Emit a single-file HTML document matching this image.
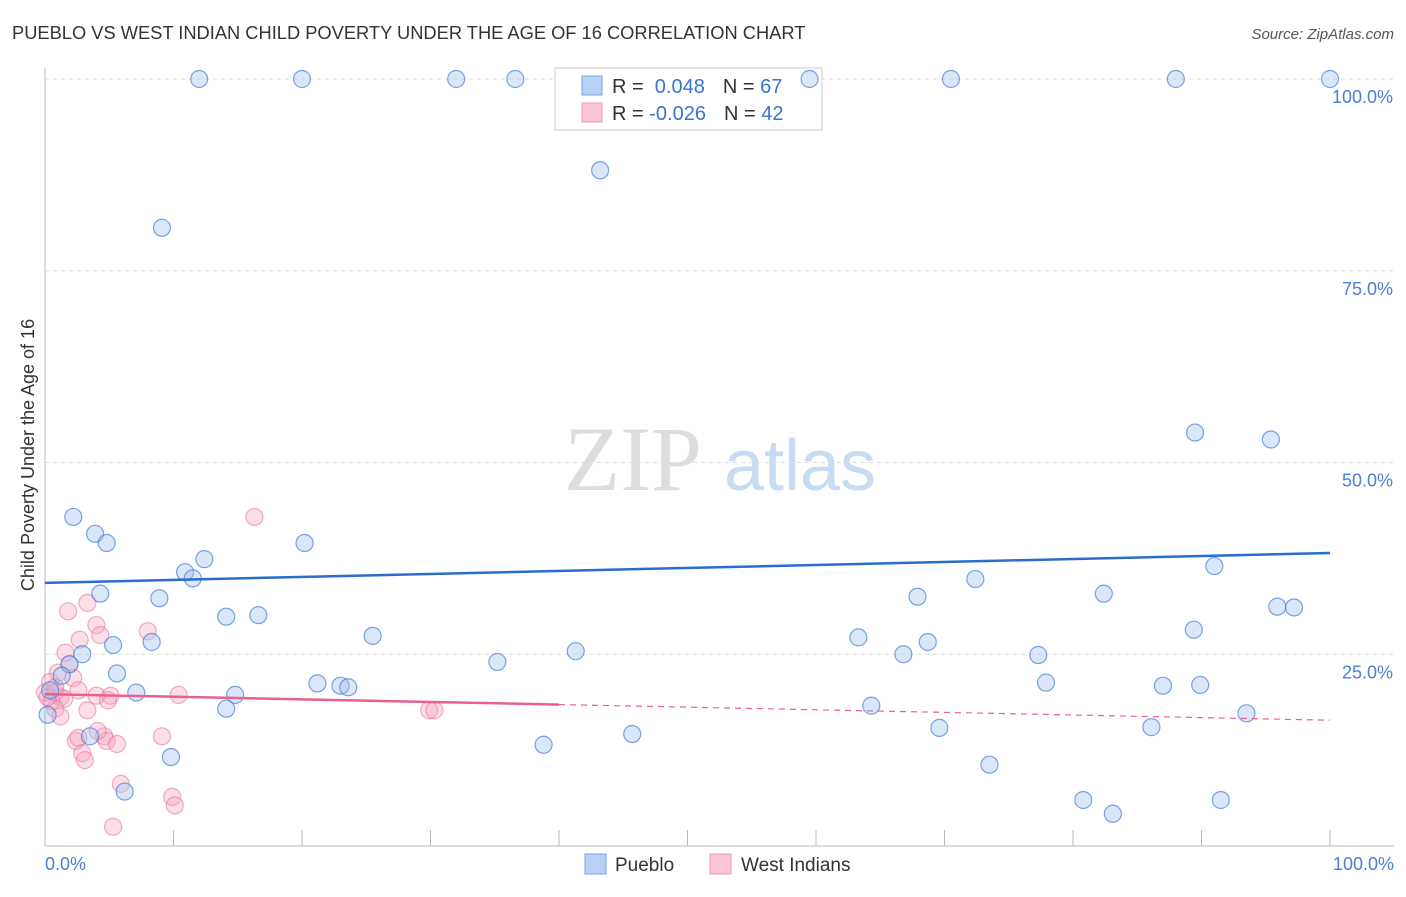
<!DOCTYPE html>
<html><head><meta charset="utf-8"><style>
body{margin:0;background:#fff;font-family:"Liberation Sans",sans-serif}
</style></head><body>
<svg width="1406" height="892" font-family="Liberation Sans, sans-serif">
<text x="12" y="39" font-size="18.3" fill="#333">PUEBLO VS WEST INDIAN CHILD POVERTY UNDER THE AGE OF 16 CORRELATION CHART</text>
<text x="1394" y="39" font-size="15" fill="#555" font-style="italic" text-anchor="end">Source: ZipAtlas.com</text>
<text x="633" y="490" font-size="92" fill="#ddd" font-family="Liberation Serif, serif" text-anchor="middle">ZIP</text>
<text x="800" y="490" font-size="72" fill="#c9dbf2" text-anchor="middle">atlas</text>
<g id="grid"></g><g id="axes"></g>
<g>
<rect x="555" y="68" width="267" height="62" fill="#fff" stroke="#ccc"/>
<rect x="582" y="76" width="20" height="19" fill="#b8d0f5" stroke="#7aa3e0"/>
<rect x="582" y="103" width="20" height="19" fill="#fbc5d5" stroke="#ee99b3"/>
<text x="612" y="93" font-size="20" fill="#333">R = <tspan fill="#3b73d4">&#160;0.048</tspan><tspan dx="18">N = </tspan><tspan fill="#3b73d4">67</tspan></text>
<text x="612" y="120" font-size="20" fill="#333">R = <tspan fill="#3b73d4">-0.026</tspan><tspan dx="18">N = </tspan><tspan fill="#3b73d4">42</tspan></text>
</g>
<g id="pts"></g><g id="trend"></g>
<text transform="translate(34,455) rotate(-90)" font-size="18" fill="#333" text-anchor="middle">Child Poverty Under the Age of 16</text>
<text x="45" y="870" font-size="18" fill="#4a7fd4">0.0%</text>
<text x="1394" y="870" font-size="18" fill="#4a7fd4" text-anchor="end">100.0%</text>
<g>
<rect x="585" y="854" width="21" height="20" fill="#b8d0f5" stroke="#7aa3e0"/>
<text x="615" y="871" font-size="19" fill="#333">Pueblo</text>
<rect x="710" y="854" width="21" height="20" fill="#fbc5d5" stroke="#ee99b3"/>
<text x="741" y="871" font-size="19" fill="#333">West Indians</text>
</g>
</svg>
<script>
const yTicks=[25,50,75,100];
const xTicks=[0,10,20,30,40,50,60,70,80,90,100];
const puebloX=[12,20,32,36.6,59.5,70.5,88,100,43.2,9.1,89.5,95.4,2.2,3.9,4.8,20.2,12.4,10.9,11.5,72.4,91,4.3,8.9,67.9,82.4,95.9,97.2,14.1,16.6,25.5,63.3,89.4,5.3,8.3,68.7,2.9,1.9,66.8,77.3,41.3,35.2,5.6,1.3,21.2,23,23.6,77.9,87,89.9,7.1,14.8,0.4,14.1,64.3,93.5,69.6,3.5,45.7,86.1,38.8,9.8,73.5,6.2,80.8,83.1,91.5,0.2];
const puebloY=[100,100,100,100,100,100,100,100,88.1,80.6,53.9,53,42.9,40.7,39.5,39.5,37.4,35.7,34.9,34.8,36.5,32.9,32.3,32.5,32.9,31.2,31.1,29.9,30.1,27.4,27.2,28.2,26.2,26.6,26.6,25,23.7,25,24.9,25.4,24,22.5,22.2,21.2,20.9,20.7,21.3,20.9,21,20,19.7,20.3,17.9,18.3,17.3,15.4,14.3,14.6,15.5,13.2,11.6,10.6,7.1,6,4.2,6,17.1];
const wiX=[16.3,1.8,3.3,4,4.3,2.7,1.6,1.9,2.2,1,0.4,0.8,1.2,2.6,0.5,1.5,0.8,1.2,3.3,4,5.1,4.9,10.4,8,29.9,30.3,2.4,2.6,2.9,3.1,4.6,4.8,5.6,9.1,5.9,9.9,10.1,5.3,0,0.2,0.8,4.1];
const wiY=[42.9,30.6,31.7,28.8,27.5,26.9,25.2,23.7,21.9,22.6,21.4,20,19.4,20.3,18.9,19.2,17.9,16.9,17.7,19.6,19.6,19.0,19.7,28,17.7,17.7,13.7,14.1,12.1,11.2,14.3,13.7,13.3,14.3,8.1,6.4,5.3,2.5,20,19.4,20.7,15];
const blueTrend=[34.3,38.2], pinkTrend=[19.8,16.4], pinkSolidEnd=40;
const X=v=>45+v/100*1285, Y=v=>846-v/100*767;
const NS="http://www.w3.org/2000/svg";
function mk(p,t,a){const e=document.createElementNS(NS,t);for(const k in a)e.setAttribute(k,a[k]);p.appendChild(e);return e;}
const grid=document.getElementById('grid'),axes=document.getElementById('axes'),pts=document.getElementById('pts'),tr=document.getElementById('trend');
yTicks.forEach(t=>{
 const l=mk(grid,'line',{x1:45,x2:1394,y1:Y(t),y2:Y(t),stroke:'#ddd','stroke-dasharray':'4,4'});
 
 
 const tx=mk(grid,'text',{x:1393,y:Y(t)+24,'font-size':18,fill:'#4a7fd4','text-anchor':'end'});tx.textContent=t.toFixed(1)+'%';
 
 
});
const ya=mk(axes,'line',{x1:45,x2:45,y1:68,y2:846,stroke:'#bbb'});


const xa=mk(axes,'line',{x1:45,x2:1394,y1:846,y2:846,stroke:'#bbb'});


xTicks.forEach(t=>{const l=mk(axes,'line',{x1:X(t),x2:X(t),y1:830,y2:846,stroke:'#bbb'});
 
 });
wiX.forEach((x,i)=>{const c=mk(pts,'circle',{cx:X(x),cy:Y(wiY[i]),r:8.5,fill:'rgba(246,160,188,0.35)',stroke:'rgba(232,120,158,0.6)','stroke-width':1.2});
 
 });
puebloX.forEach((x,i)=>{const c=mk(pts,'circle',{cx:X(x),cy:Y(puebloY[i]),r:8.5,fill:'rgba(160,195,240,0.4)',stroke:'rgba(70,125,215,0.7)','stroke-width':1.2});
 
 });
const bt=mk(tr,'line',{x1:X(0),x2:X(100),y1:Y(blueTrend[0]),y2:Y(blueTrend[1]),stroke:'#2a6dd0','stroke-width':2.5});


const pm=pinkTrend[0]+(pinkTrend[1]-pinkTrend[0])*pinkSolidEnd/100;
const pt=mk(tr,'line',{x1:X(0),x2:X(pinkSolidEnd),y1:Y(pinkTrend[0]),y2:Y(pm),stroke:'#e8608e','stroke-width':2.5});


const pd=mk(tr,'line',{x1:X(pinkSolidEnd),x2:X(100),y1:Y(pm),y2:Y(pinkTrend[1]),stroke:'#e8608e','stroke-width':1.2,'stroke-dasharray':'6,5'});


</script>
</body></html>
